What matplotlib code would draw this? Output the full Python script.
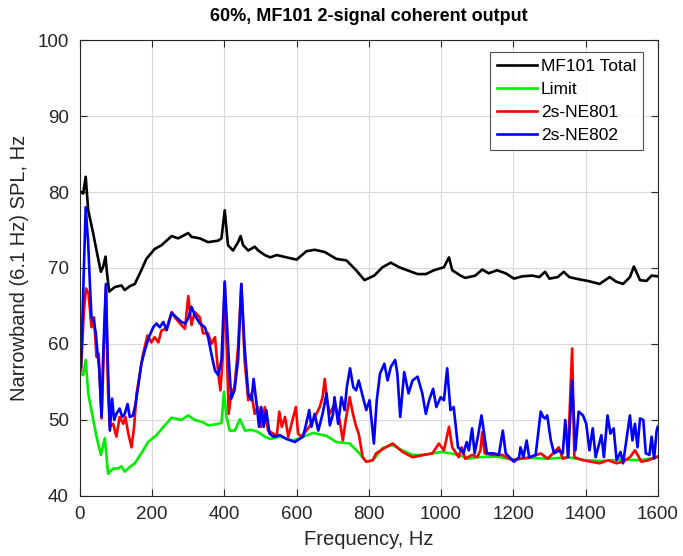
import matplotlib
matplotlib.use("Agg")
import matplotlib.pyplot as plt

plt.rcParams['font.family'] = ['Liberation Sans', 'DejaVu Sans']

# ---- data ----
total_f = [3, 9, 16, 23, 37, 46, 58, 64, 71, 75, 81, 97, 115, 124, 138, 152, 170, 184, 207, 226, 254, 272,
           300, 309, 332, 355, 383, 392, 401, 410, 424, 438, 445, 452, 466, 484, 494, 512, 527, 545, 572,
           600, 627, 650, 678, 710, 738, 765, 788, 815, 838, 861, 884, 912, 935, 958, 980, 1008, 1022, 1031,
           1054, 1067, 1095, 1114, 1132, 1155, 1179, 1202, 1225, 1253, 1272, 1288, 1300, 1323, 1340, 1355,
           1383, 1406, 1439, 1467, 1485, 1504, 1523, 1534, 1551, 1569, 1583, 1600]
total_v = [80.0, 79.8, 82.0, 77.6, 74.5, 72.3, 69.5, 70.1, 71.5, 69.3, 66.9, 67.5, 67.7, 67.1, 67.6, 67.9,
           69.7, 71.2, 72.5, 73.0, 74.2, 73.9, 74.6, 74.1, 73.9, 73.4, 73.6, 73.9, 77.6, 73.0, 72.3, 73.4,
           74.2, 73.0, 72.3, 72.8, 72.3, 71.7, 71.4, 71.7, 71.4, 71.1, 72.2, 72.4, 72.1, 71.2, 71.0, 69.7,
           68.4, 69.0, 70.1, 70.7, 70.1, 69.6, 69.2, 69.2, 69.7, 70.1, 71.4, 69.7, 69.0, 68.7, 69.0, 69.8,
           69.3, 69.7, 69.3, 68.6, 68.9, 69.0, 68.8, 69.5, 68.6, 68.8, 69.5, 68.8, 68.5, 68.3, 67.9, 68.8,
           68.2, 67.9, 68.8, 70.2, 68.4, 68.3, 69.0, 68.9]

limit_f = [3, 9, 16, 23, 37, 46, 58, 69, 78, 92, 106, 115, 124, 138, 152, 170, 189, 212, 235, 254, 281,
           300, 318, 341, 355, 374, 392, 399, 406, 415, 429, 443, 457, 475, 494, 512, 527, 554, 591, 618,
           646, 683, 710, 747, 774, 793, 811, 838, 866, 893, 921, 948, 976, 1003, 1026, 1049, 1075, 1100,
           1150, 1200, 1250, 1300, 1350, 1400, 1450, 1500, 1550, 1600]
limit_v = [56.1, 55.9, 57.9, 53.5, 50.0, 47.8, 45.4, 47.6, 42.9, 43.6, 43.6, 43.9, 43.2, 43.8, 44.3, 45.6,
           47.1, 48.0, 49.3, 50.3, 50.0, 50.6, 50.0, 49.7, 49.3, 49.4, 49.6, 53.7, 50.4, 48.6, 48.6, 50.1,
           48.6, 48.7, 48.4, 47.8, 47.5, 47.8, 47.3, 47.8, 48.3, 47.9, 47.1, 46.9, 45.6, 44.5, 44.7, 46.3,
           46.7, 46.0, 45.4, 45.4, 45.6, 45.8, 45.6, 45.4, 44.9, 45.1, 45.2, 44.8, 45.0, 44.9, 45.1, 44.7,
           44.6, 44.8, 44.7, 45.1]

ne801_f = [3, 11, 17, 24, 32, 39, 46, 52, 60, 64, 72, 78, 83, 92, 101, 110, 120, 126, 134, 143, 150, 157,
           166, 175, 187, 198, 207, 217, 226, 240, 254, 263, 277, 291, 300, 309, 318, 332, 341, 355, 364,
           374, 383, 389, 395, 401, 412, 419, 428, 438, 447, 456, 466, 475, 484, 493, 502, 512, 521, 536,
           545, 552, 559, 568, 577, 586, 598, 604, 613, 627, 641, 655, 664, 672, 678, 684, 692, 705, 719,
           728, 736, 747, 756, 765, 772, 783, 793, 811, 820, 843, 866, 893, 921, 953, 976, 994, 1008,
           1022, 1031, 1049, 1057, 1067, 1086, 1100, 1109, 1114, 1121, 1141, 1169, 1197, 1220, 1248,
           1276, 1295, 1326, 1337, 1351, 1363, 1369, 1393, 1416, 1439, 1462, 1486, 1504, 1523, 1537,
           1555, 1574, 1600]
ne801_v = [56.5, 64.4, 67.3, 66.6, 62.2, 63.5, 58.3, 58.7, 50.2, 56.1, 67.5, 53.5, 49.1, 49.5, 47.8, 50.4,
           49.5, 50.4, 48.2, 46.4, 49.1, 53.5, 56.1, 58.7, 61.1, 60.2, 60.9, 60.2, 61.8, 62.0, 64.2, 63.5,
           62.7, 62.0, 66.3, 62.5, 64.2, 63.5, 61.4, 61.4, 60.0, 60.9, 56.1, 53.9, 57.9, 68.2, 50.8, 53.5,
           54.3, 59.6, 67.9, 57.9, 52.6, 53.5, 50.8, 51.7, 49.1, 51.7, 48.6, 48.2, 47.8, 51.1, 49.1, 50.4,
           47.8, 49.5, 51.7, 48.2, 47.8, 48.6, 49.5, 50.8, 51.7, 53.0, 55.4, 52.6, 50.8, 52.1, 50.0, 47.3,
           50.0, 53.0, 50.8, 49.1, 48.2, 45.1, 44.5, 44.7, 45.6, 46.3, 46.9, 45.8, 45.1, 45.4, 45.6, 46.9,
           46.0, 49.1, 46.4, 45.1, 46.4, 44.9, 45.4, 45.1, 46.0, 48.4, 45.6, 45.4, 45.4, 44.7, 44.9, 45.1,
           45.6, 44.9, 46.4, 44.9, 45.1, 59.4, 45.1, 44.7, 44.5, 44.3, 44.7, 44.3, 44.5, 45.1, 46.0, 44.5,
           44.7, 45.2]

ne802_f = [3, 9, 16, 23, 28, 32, 38, 44, 49, 53, 60, 64, 72, 77, 83, 89, 95, 101, 110, 117, 124, 132, 138,
           147, 154, 161, 170, 180, 191, 203, 212, 221, 231, 240, 254, 267, 281, 292, 301, 309, 318, 332,
           346, 355, 364, 374, 383, 392, 401, 413, 419, 428, 438, 447, 456, 466, 475, 481, 488, 496, 502,
           509, 516, 525, 536, 554, 572, 595, 618, 629, 635, 641, 650, 660, 672, 683, 692, 701, 705, 715,
           724, 733, 739, 748, 757, 765, 772, 781, 793, 802, 814, 822, 831, 843, 852, 861, 873, 879, 887,
           898, 910, 921, 935, 948, 958, 967, 978, 987, 999, 1008, 1017, 1026, 1035, 1047, 1057, 1062,
           1071, 1077, 1086, 1093, 1102, 1112, 1118, 1127, 1146, 1160, 1171, 1179, 1202, 1216, 1220,
           1228, 1237, 1244, 1262, 1276, 1283, 1288, 1294, 1304, 1313, 1327, 1337, 1344, 1352, 1363,
           1372, 1381, 1393, 1402, 1411, 1420, 1428, 1437, 1444, 1451, 1461, 1469, 1478, 1486, 1497,
           1504, 1513, 1523, 1530, 1537, 1544, 1551, 1560, 1567, 1577, 1583, 1590, 1597, 1600]
ne802_v = [57.0, 66.6, 78.0, 73.2, 67.5, 63.5, 63.1, 61.4, 58.7, 57.0, 50.4, 57.9, 67.9, 57.9, 48.6, 52.8,
           50.0, 50.8, 51.5, 50.4, 50.8, 52.1, 50.4, 50.6, 52.1, 54.3, 57.4, 59.2, 60.9, 62.2, 62.7, 62.2,
           62.9, 61.8, 64.1, 63.5, 62.9, 62.7, 63.5, 64.9, 63.8, 62.7, 62.2, 60.9, 58.7, 56.5, 55.9, 57.9,
           68.2, 57.4, 52.8, 53.9, 57.9, 67.9, 59.6, 53.5, 52.6, 55.4, 52.6, 49.1, 51.7, 49.1, 51.3, 48.2,
           47.8, 48.0, 47.5, 47.1, 47.8, 50.0, 51.3, 49.1, 50.8, 48.6, 50.8, 53.5, 49.3, 50.8, 53.0, 49.5,
           53.0, 51.3, 54.3, 56.8, 54.3, 53.9, 55.2, 53.5, 51.3, 52.6, 46.9, 52.6, 56.1, 57.4, 55.2, 57.0,
           57.9, 56.1, 50.4, 56.3, 53.5, 55.2, 55.7, 53.5, 50.8, 52.6, 54.1, 51.7, 53.0, 52.6, 56.8, 51.3,
           51.7, 46.4, 46.0, 45.6, 47.1, 46.0, 48.9, 45.6, 47.8, 50.6, 48.6, 45.6, 45.6, 45.4, 48.6, 45.6,
           44.5, 45.1, 46.4, 45.1, 47.3, 45.1, 45.4, 51.1, 50.4, 50.2, 50.6, 47.3, 45.6, 46.0, 45.6, 50.0,
           45.1, 55.2, 46.0, 51.1, 50.6, 49.5, 46.0, 48.9, 45.1, 46.7, 48.0, 45.1, 50.6, 48.2, 48.9, 44.7,
           45.8, 44.3, 47.3, 50.6, 47.3, 49.5, 46.4, 50.2, 50.0, 45.6, 45.4, 47.8, 44.9, 48.6, 49.1]

series = [
    ("MF101 Total", total_f, total_v, "black"),
    ("Limit", limit_f, limit_v, "#00ee00"),
    ("2s-NE801", ne801_f, ne801_v, "red"),
    ("2s-NE802", ne802_f, ne802_v, "blue"),
]

fig = plt.figure(figsize=(6.83, 5.56), dpi=100)
ax = fig.add_axes([0.117, 0.108, 0.846, 0.820])

for name, f, v, c in series:
    ax.plot(f, v, color=c, lw=1.9, label=name)

ax.set_xlim(0, 1600)
ax.set_ylim(40, 100)
ax.set_xticks(range(0, 1601, 200))
ax.set_yticks(range(40, 101, 10))
ax.grid(True, color='#d9d9d9', lw=0.8)
ax.set_axisbelow(True)
ax.tick_params(direction='in', top=True, right=True, labelsize=13.5, colors='#262626', length=5)
ax.tick_params(axis='x', pad=7)
ax.tick_params(axis='y', pad=8)
for s in ax.spines.values():
    s.set_color('#262626')
    s.set_linewidth(0.8)

ax.set_xlabel("Frequency, Hz", fontsize=14.5, color='#262626', labelpad=5)
ax.set_ylabel("Narrowband (6.1 Hz) SPL, Hz", fontsize=14.5, color='#262626', labelpad=6)
ax.set_title("60%, MF101 2-signal coherent output", fontsize=13, fontweight='bold', pad=14)

leg = ax.legend(loc='upper right', bbox_to_anchor=(0.975, 0.974), fontsize=12.5, frameon=True,
                fancybox=False, edgecolor='#262626', handlelength=2.3, borderpad=0.4,
                labelspacing=0.45, handletextpad=0.25, borderaxespad=0)
leg.get_frame().set_linewidth(0.8)

fig.savefig("out.png", dpi=100)
